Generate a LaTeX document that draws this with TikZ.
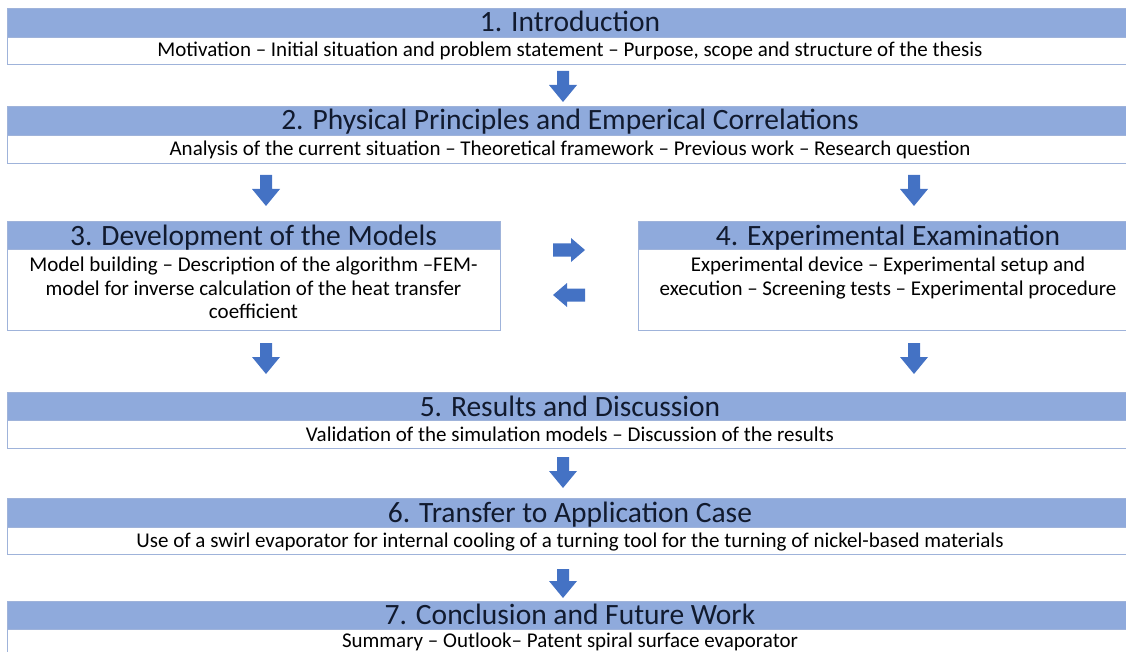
\documentclass[tikz,border=0pt]{standalone}
\usepackage{fontspec}
\setmainfont{Carlito}
\definecolor{hdrblue}{HTML}{8FAADC}
\definecolor{frameblue}{HTML}{9FB3DA}
\definecolor{arrowblue}{HTML}{4472C4}
\definecolor{titleink}{HTML}{111A2E}
\tikzset{
  hdr/.style={fill=hdrblue, draw=frameblue, line width=0.8pt},
  bodybox/.style={fill=white, draw=frameblue, line width=0.8pt},
  ttl/.style={anchor=base, font=\fontsize{29.5}{32}\selectfont, text=titleink, inner sep=0pt},
  sub/.style={anchor=base, font=\fontsize{21}{23.5}\selectfont, inner sep=0pt},
  subblock/.style={anchor=north, align=center, font=\fontsize{21}{23.5}\selectfont, inner sep=0pt},
  % block arrow pointing down; origin at the middle of the shaft's top end
  pics/downblock/.style={code={
    \fill[arrowblue] (-6,0) -- (6,0) -- (6,#1-17) -- (14,#1-17) -- (0,#1)
      -- (-14,#1-17) -- (-6,#1-17) -- cycle;}},
  pics/downblock/.default=31,
  % block arrow pointing right; origin at the centre of the arrow
  pics/rightblock/.style={code={
    \fill[arrowblue] (-16,-6.5) -- (2,-6.5) -- (2,-12) -- (16,0) -- (2,12)
      -- (2,6.5) -- (-16,6.5) -- cycle;}},
  pics/leftblock/.style={code={
    \fill[arrowblue] (16,-6.5) -- (-2,-6.5) -- (-2,-12) -- (-16,0) -- (-2,12)
      -- (-2,6.5) -- (16,6.5) -- cycle;}}
}
\begin{document}
\begin{tikzpicture}[x=1pt, y=-1pt]
\useasboundingbox (0,0) rectangle (1126,652);
\clip (0,0) rectangle (1126,652);

% 1. Introduction
\draw[hdr] (7,8) rectangle (1133,37);
\draw[bodybox] (7,37) rectangle (1133,64);
\node[ttl] (t1) at (570,32) {1. Introduction};
\node[sub] (s1) at (570,57) {Motivation – Initial situation and problem statement – Purpose, scope and structure of the thesis};

% 2. Physical principles
\draw[hdr] (7,106) rectangle (1133,135);
\draw[bodybox] (7,135) rectangle (1133,163);
\node[ttl] (t2) at (570,130) {2. Physical Principles and Emperical Correlations};
\node[sub] (s2) at (570,156) {Analysis of the current situation – Theoretical framework – Previous work – Research question};

% 3. Models
\draw[hdr] (7,221) rectangle (500,249);
\draw[bodybox] (7,249) rectangle (500,330);
\node[ttl] (t3) at (253.5,245) {3. Development of the Models};
\node[subblock] (s3) at (253.5,257) {Model building – Description of the algorithm –FEM-\\model for inverse calculation of the heat transfer\\coefficient};

% 4. Experiments
\draw[hdr] (638,221) rectangle (1138,249);
\draw[bodybox] (638,249) rectangle (1138,330);
\node[ttl] (t4) at (888,245) {4. Experimental Examination};
\node[subblock] (s4) at (888,257) {Experimental device – Experimental setup and\\execution – Screening tests – Experimental procedure};

% 5. Results
\draw[hdr] (7,392) rectangle (1133,420);
\draw[bodybox] (7,420) rectangle (1133,448);
\node[ttl] (t5) at (570,416) {5. Results and Discussion};
\node[sub] (s5) at (570,441) {Validation of the simulation models – Discussion of the results};

% 6. Transfer
\draw[hdr] (7,498) rectangle (1133,527);
\draw[bodybox] (7,527) rectangle (1133,554);
\node[ttl] (t6) at (570,522) {6. Transfer to Application Case};
\node[sub] (s6) at (570,547) {Use of a swirl evaporator for internal cooling of a turning tool for the turning of nickel-based materials};

% 7. Conclusion
\draw[hdr] (7,601) rectangle (1133,629);
\draw[bodybox] (7,629) rectangle (1133,662);
\node[ttl] (t7) at (570,624) {7. Conclusion and Future Work};
\node[sub] (s7) at (570,647) {Summary – Outlook– Patent spiral surface evaporator};

% block arrows between the chapters
\pic (a12) at (563,71) {downblock};
\pic (a23) at (266,175) {downblock};
\pic (a24) at (914,175) {downblock};
\pic (a34) at (569,250) {rightblock};
\pic (a43) at (569,295) {leftblock};
\pic (a35) at (266,343) {downblock};
\pic (a45) at (914,343) {downblock};
\pic (a56) at (563,457) {downblock};
\pic (a67) at (563,569) {downblock=29};
\end{tikzpicture}
\end{document}
